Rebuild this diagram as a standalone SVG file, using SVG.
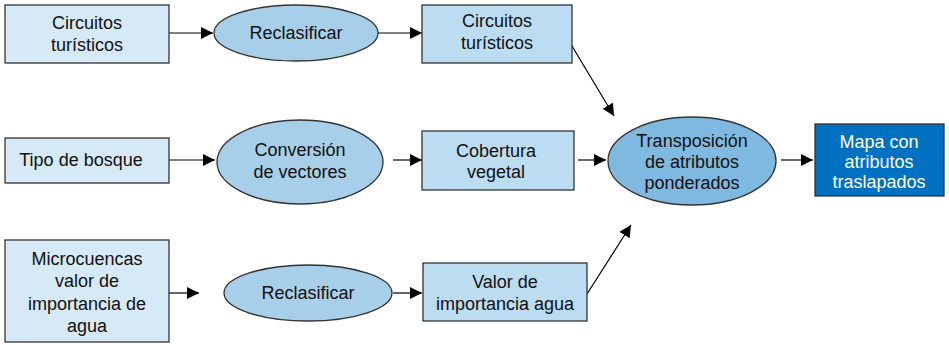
<svg xmlns="http://www.w3.org/2000/svg" width="949" height="345" viewBox="0 0 949 345">
<defs>
<marker id="ah" viewBox="0 0 12 12" refX="12" refY="6" markerWidth="12" markerHeight="12" markerUnits="userSpaceOnUse" orient="auto">
<path d="M0,0 L12,6 L0,12 Z" fill="#000"/>
</marker>
</defs>
<style>
.src{fill:#d6e9f6;stroke:#333;stroke-width:1.3}
.mid{fill:#bcdcf1;stroke:#333;stroke-width:1.3}
.op{fill:#a8cfe9;stroke:#333;stroke-width:1.3}
.tr{fill:#80b9e0;stroke:#333;stroke-width:1.3}
.out{fill:#0070c0;stroke:#333;stroke-width:1.3}
text{font-family:"Liberation Sans",Arial,sans-serif;font-size:18px;fill:#111;text-anchor:middle}
.w{fill:#fff}
.c line{stroke:#000;stroke-width:1.2;marker-end:url(#ah)}
</style>
<rect width="949" height="345" fill="#fff"/>
<g class="c">
<line x1="169" y1="33" x2="213" y2="33"/>
<line x1="378" y1="33" x2="422" y2="33"/>
<line x1="572" y1="46" x2="614" y2="116"/>
<line x1="169" y1="160" x2="215" y2="160"/>
<line x1="393" y1="160" x2="422" y2="160"/>
<line x1="578" y1="160" x2="606" y2="160"/>
<line x1="781" y1="160" x2="813" y2="160"/>
<line x1="169" y1="293" x2="199" y2="293"/>
<line x1="393" y1="293" x2="422" y2="293"/>
<line x1="587" y1="294" x2="631" y2="225"/>
</g>
<g id="n1"><rect class="src" x="5" y="5" width="164" height="58"/><text x="87" y="29">Circuitos</text><text x="87" y="51">turísticos</text></g>
<g id="n2"><ellipse class="op" cx="296" cy="33" rx="82" ry="28"/><text x="296" y="39">Reclasificar</text></g>
<g id="n3"><rect class="mid" x="422" y="5" width="150" height="58"/><text x="497" y="27">Circuitos</text><text x="497" y="49">turísticos</text></g>
<g id="n4"><rect class="src" x="5" y="138" width="164" height="45"/><text x="81" y="166">Tipo de bosque</text></g>
<g id="n5"><ellipse class="op" cx="300" cy="162" rx="83" ry="42"/><text x="300" y="156">Conversión</text><text x="300" y="178">de vectores</text></g>
<g id="n6"><rect class="mid" x="422" y="131" width="152" height="59"/><text x="496" y="157">Cobertura</text><text x="496" y="178">vegetal</text></g>
<g id="n7"><ellipse class="tr" cx="692" cy="161" rx="84" ry="44"/><text x="692" y="147">Transposición</text><text x="692" y="168">de atributos</text><text x="692" y="189">ponderados</text></g>
<g id="n8"><rect class="out" x="815" y="124" width="129" height="72"/><text class="w" x="879" y="148">Mapa con</text><text class="w" x="879" y="168">atributos</text><text class="w" x="879" y="188">traslapados</text></g>
<g id="n9"><rect class="src" x="5" y="240" width="164" height="102"/><text x="87" y="265">Microcuencas</text><text x="87" y="287">valor de</text><text x="87" y="310">importancia de</text><text x="87" y="332">agua</text></g>
<g id="n10"><ellipse class="op" cx="308" cy="293" rx="84" ry="28"/><text x="308" y="299">Reclasificar</text></g>
<g id="n11"><rect class="mid" x="423" y="263" width="164" height="58"/><text x="505" y="288">Valor de</text><text x="505" y="310">importancia agua</text></g>
</svg>
